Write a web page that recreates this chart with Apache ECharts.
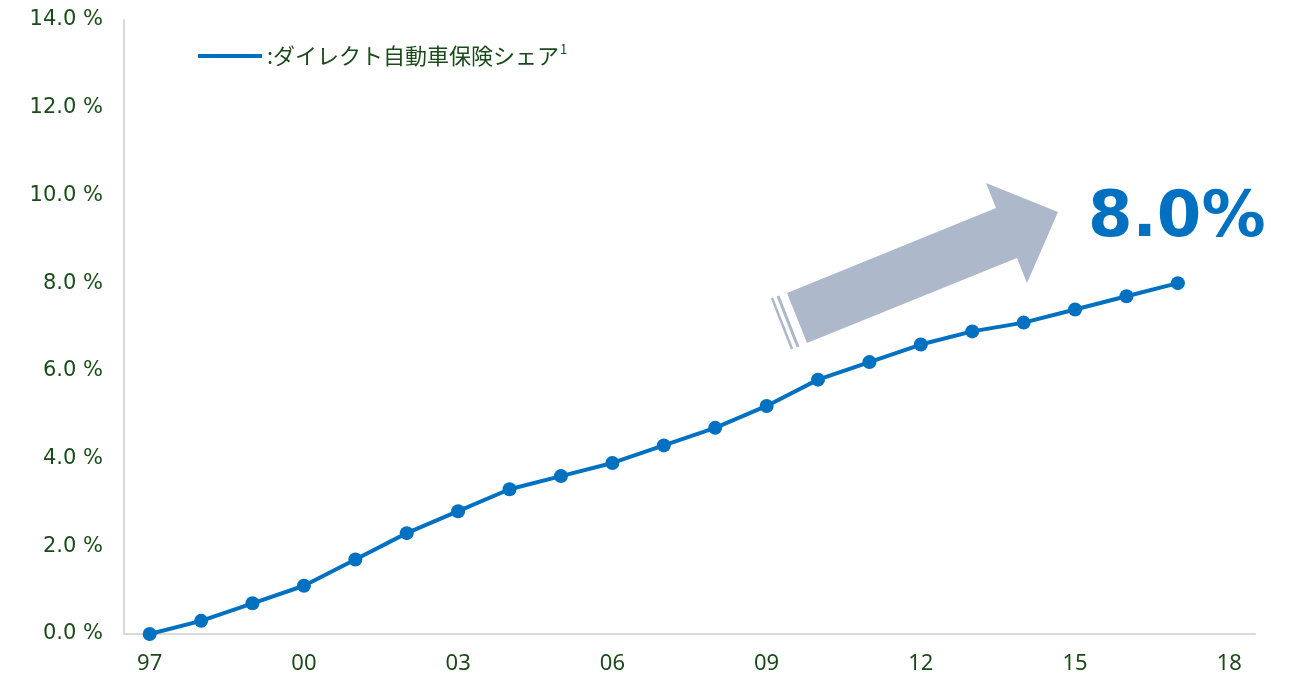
<!DOCTYPE html>
<html>
<head>
<meta charset="utf-8">
<script src="https://cdn.jsdelivr.net/npm/echarts@6/dist/echarts.min.js"></script>
<style>html,body{margin:0;padding:0;background:#fff;}#c{width:1295px;height:678px;}</style>
</head>
<body>
<div id="c"></div>
<script>
const categories = ['97','98','99','00','01','02','03','04','05','06','07','08','09','10','11','12','13','14','15','16','17','18'];
const shareValues = [0.0,0.3,0.7,1.1,1.7,2.3,2.8,3.3,3.6,3.9,4.3,4.7,5.2,5.8,6.2,6.6,6.9,7.1,7.4,7.7,8.0];
const seriesName = ':ダイレクト自動車保険シェア';
const calloutText = '8.0%';

const green = '#1b4b1b';
const blue = '#0070c0';
const arrowColor = '#adb9ca';

const chart = echarts.init(document.getElementById('c'));
chart.setOption({
  animation: false,
  backgroundColor: '#fff',
  grid: {left: 124, right: 40, top: 20, bottom: 44, containLabel: false},
  legend: {
    left: 193, top: 38,
    itemWidth: 64, itemHeight: 4, itemGap: 8,
    data: [{name: seriesName, icon: 'rect'}],
    formatter: n => '{a|' + n + '}{s|1}',
    textStyle: {
      rich: {
        a: {fontFamily: 'Noto Sans CJK JP', fontSize: 22, color: green, lineHeight: 26},
        s: {fontFamily: 'Noto Sans CJK JP', fontSize: 13, color: green, verticalAlign: 'top', lineHeight: 26, padding: [0,0,8,1]}
      }
    }
  },
  xAxis: {
    type: 'category',
    data: categories,
    boundaryGap: true,
    axisLine: {lineStyle: {color: '#d9d9d9', width: 2}},
    axisTick: {show: false},
    axisLabel: {interval: 2, margin: 19, color: green, fontFamily: 'Noto Sans', fontSize: 22},
    splitLine: {show: false}
  },
  yAxis: {
    type: 'value',
    min: 0, max: 14, interval: 2,
    axisLine: {show: true, lineStyle: {color: '#d9d9d9', width: 2}},
    axisTick: {show: false},
    splitLine: {show: false},
    axisLabel: {margin: 21, color: green, fontFamily: 'DejaVu Sans', fontSize: 21,
      formatter: v => v.toFixed(1) + ' %'}
  },
  series: [{
    name: seriesName,
    type: 'line',
    data: shareValues,
    lineStyle: {color: blue, width: 4},
    itemStyle: {color: blue},
    symbol: 'circle',
    symbolSize: 14,
    z: 5
  }],
  graphic: [
    {type: 'polygon', shape: {points: [[787,293],[996,208],[986,183],[1058,212],[1027,283],[1017,258],[807,343]]},
      style: {fill: arrowColor}},
    {type: 'line', shape: {x1: 772, y1: 298, x2: 792, y2: 349}, style: {stroke: arrowColor, lineWidth: 2.5}},
    {type: 'line', shape: {x1: 778, y1: 296, x2: 798, y2: 347}, style: {stroke: arrowColor, lineWidth: 3}},
    {type: 'text', left: 1088, top: 187,
      style: {text: calloutText, fill: blue, font: 'bold 64px "DejaVu Sans"'}}
  ]
});
</script>
</body>
</html>
